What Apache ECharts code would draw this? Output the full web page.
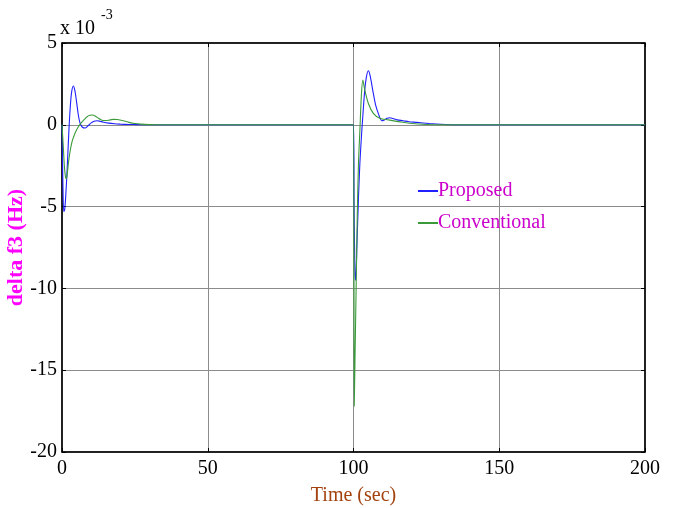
<!DOCTYPE html>
<html>
<head>
<meta charset="utf-8">
<script src="https://cdn.jsdelivr.net/npm/echarts@6/dist/echarts.min.js"></script>
<style>
  html, body { margin: 0; padding: 0; background: #fff; }
  #chart { width: 673px; height: 508px; }
</style>
</head>
<body>
<div id="chart"></div>
<script>
// Frequency deviation of area 3 (units of 1e-3 Hz) vs time in seconds
const xTicks = [0, 50, 100, 150, 200];
const yTicks = [-20, -15, -10, -5, 0, 5];

// Proposed controller response
const proposedTime = [0, 0.3, 0.6, 0.9, 1.3, 1.8, 2.3, 2.8, 3.3, 3.9, 4.4, 5.0, 5.6, 6.2, 7.0, 8.0, 9.0, 10, 11, 12, 13, 14, 16, 18, 20, 23, 26, 30,
  100, 100.2, 100.5, 100.75, 101.2, 101.7, 102.2, 102.8, 103.3, 103.8, 104.4, 105.1, 105.7, 106.8, 107.6, 108.5, 109.7, 110.6, 111.5, 112.5, 113.5, 115, 117, 119, 121.7, 126, 130, 135, 200];
const proposedVal = [0, -3.5, -5.3, -5.2, -4.3, -2.6, -0.6, 1.0, 2.0, 2.37, 2.1, 1.4, 0.6, 0.1, -0.15, -0.2, -0.05, 0.12, 0.22, 0.25, 0.22, 0.17, 0.1, 0.06, 0.04, 0.02, 0.01, 0,
  0, -5, -9.0, -9.5, -7.2, -4.5, -2.3, -0.5, 0.8, 2.0, 2.9, 3.3, 3.0, 1.92, 1.2, 0.7, 0.25, 0.3, 0.4, 0.43, 0.38, 0.3, 0.25, 0.19, 0.15, 0.08, 0.03, 0, 0];

// Conventional controller response
const conventionalTime = [0, 0.4, 0.8, 1.2, 1.5, 1.8, 2.3, 2.8, 3.5, 4.5, 5.5, 6.5, 7.5, 8.5, 9.5, 10.5, 11.5, 12.5, 13.5, 14.5, 16, 17.5, 19, 21, 23, 25, 27, 30, 33,
  100, 100.25, 100.5, 100.9, 101.3, 101.7, 102.2, 102.7, 103.2, 103.9, 105.1, 106.8, 109, 112, 116, 120, 125, 130, 200];
const conventionalVal = [0, -1.2, -2.5, -3.2, -3.3, -3.0, -2.2, -1.6, -1.0, -0.5, -0.15, 0.1, 0.3, 0.48, 0.58, 0.6, 0.52, 0.4, 0.3, 0.26, 0.28, 0.33, 0.32, 0.25, 0.15, 0.08, 0.04, 0.01, 0,
  0, -17.2, -14.5, -10, -5.5, -2.4, -0.3, 1.8, 2.74, 2.1, 1.3, 0.7, 0.4, 0.3, 0.18, 0.08, 0.02, 0, 0];

const pair = (ts, vs) => ts.map((t, i) => [t, vs[i]]);

const serif = 'Liberation Serif';
const chart = echarts.init(document.getElementById('chart'), null, { renderer: 'canvas' });

const frameAxis = {
  axisLine: { show: true, onZero: false, lineStyle: { color: '#000', width: 1.5 } },
  axisTick: { show: true, inside: true, length: 4, lineStyle: { color: '#000' } }
};

chart.setOption({
  animation: false,
  backgroundColor: '#ffffff',
  grid: {
    left: 62, right: 28, top: 43, bottom: 56,
    containLabel: false, outerBoundsMode: 'none',
    show: true, borderColor: '#000', borderWidth: 1, backgroundColor: 'transparent'
  },
  legend: {
    orient: 'vertical',
    left: 413,
    top: 176,
    itemWidth: 20,
    itemHeight: 2,
    itemGap: 12,
    icon: 'rect',
    textStyle: { fontFamily: serif, fontSize: 20, color: '#cc00cc', padding: [0, 0, 0, -5] },
    data: ['Proposed', 'Conventional']
  },
  xAxis: [{
    type: 'value', min: xTicks[0], max: xTicks[xTicks.length - 1], interval: 50,
    name: 'Time (sec)', nameLocation: 'middle', nameGap: 34, nameMoveOverlap: false,
    nameTextStyle: { fontFamily: serif, fontSize: 20, color: '#a3420f' },
    ...frameAxis,
    axisLabel: { fontFamily: serif, fontSize: 20, color: '#000', margin: 7 },
    splitLine: { show: true, lineStyle: { color: '#8c8c8c', width: 1 } }
  }, {
    type: 'value', position: 'top', min: 0, max: 200, interval: 50,
    ...frameAxis,
    axisLabel: { show: false }, splitLine: { show: false }
  }],
  yAxis: [{
    type: 'value', min: yTicks[0], max: yTicks[yTicks.length - 1], interval: 5,
    name: 'delta f3 (Hz)', nameLocation: 'middle', nameGap: 35, nameRotate: 90, nameMoveOverlap: false,
    nameTextStyle: { fontFamily: serif, fontSize: 22, fontWeight: 'bold', color: '#ff00ff' },
    ...frameAxis,
    axisLabel: { fontFamily: serif, fontSize: 20, color: '#000', margin: 5 },
    splitLine: { show: true, lineStyle: { color: '#8c8c8c', width: 1 } }
  }, {
    type: 'value', position: 'right', min: -20, max: 5, interval: 5,
    ...frameAxis,
    axisLabel: { show: false }, splitLine: { show: false }
  }],
  graphic: [
    { type: 'text', left: 60, top: 19, style: { text: 'x 10', font: '20px "Liberation Serif"', fill: '#000' } },
    { type: 'text', left: 101, top: 8, style: { text: '-3', font: '14px "Liberation Serif"', fill: '#000' } }
  ],
  series: [
    {
      name: 'Proposed', type: 'line', data: pair(proposedTime, proposedVal),
      showSymbol: false, symbol: 'none', smooth: 0.3,
      lineStyle: { color: '#1f1fff', width: 1.1 }, itemStyle: { color: '#1f1fff' }, z: 3
    },
    {
      name: 'Conventional', type: 'line', data: pair(conventionalTime, conventionalVal),
      showSymbol: false, symbol: 'none', smooth: 0.3,
      lineStyle: { color: '#3a9a3a', width: 1.1 }, itemStyle: { color: '#3a9a3a' }, z: 4
    }
  ]
});
</script>
</body>
</html>
